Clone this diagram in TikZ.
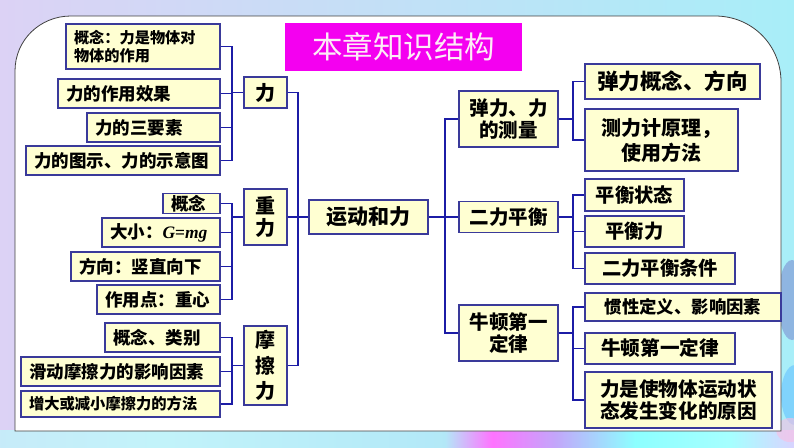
\documentclass[tikz,border=0pt]{standalone}
\usepackage{fontspec}
\setmainfont{Noto Sans CJK SC}
\newfontfamily\timesf{Liberation Serif}
\usetikzlibrary{calc}
\definecolor{boxfill}{HTML}{FFFFD2}
\definecolor{boxline}{HTML}{3A3A9A}
\definecolor{linkc}{HTML}{1C1CA6}
\definecolor{titlebg}{HTML}{F400F0}
\definecolor{lav}{HTML}{DCD2F5}
\definecolor{cyanbg}{HTML}{A8EEF8}
\pgfdeclarehorizontalshading{bottomband}{100bp}{color(0bp)=(lav!80!cyanbg); color(35bp)=(cyanbg!70!white); color(53bp)=(cyanbg!80!lav); color(56bp)=(magenta!55!white); color(60bp)=(magenta!30!cyanbg); color(65bp)=(cyan!45!white); color(71bp)=(cyan!35!white); color(78bp)=(magenta!30!white); color(88bp)=(lav); color(93bp)=(cyan!50!white); color(100bp)=(cyan!60!white)}
\tikzset{
  box/.style={draw=boxline, fill=boxfill, line width=1.4pt, inner sep=0pt, align=center, font=\bfseries\fontsize{17.5}{22}\selectfont},
  lbox/.style={box, inner xsep=8pt, text width=#1, align=left},
  lk/.style={draw=linkc, line width=1.5pt, line join=miter},
  fs/.style={font=\bfseries\fontsize{#1}{22}\selectfont},
  fsl/.style 2 args={font=\bfseries\fontsize{#1}{#2}\selectfont}
}
\begin{document}
\begin{tikzpicture}[x=1pt,y=-1pt]
\useasboundingbox (0,0) rectangle (794,447);
% background
\shade[left color=lav, right color=cyanbg] (0,0) rectangle (794,447);
\shade[shading=bottomband] (0,430) rectangle (794,447);
\fill[cyan!40!blue!50!white, opacity=0.7] (792,300) ellipse (14 and 40);
\fill[blue!40!cyan!60!white, opacity=0.6] (795,395) ellipse (14 and 30);
\fill[magenta!25!white, opacity=0.6] (790,430) ellipse (14 and 12);
% panel
\draw[black!75, line width=0.8pt, fill=white] (15,431) -- (15,71) .. controls (15,40) and (40,16) .. (71,16) -- (715,16) .. controls (752,16) and (781,45) .. (781,82) -- (781,431) -- cycle;
% title
\node[fill=titlebg, minimum width=237, minimum height=48, inner sep=0pt, text=white!92!magenta, font=\fontsize{30.5}{32}\selectfont] (tt) at (403.5,47) {本章知识结构};
% left column: 力
\node[lbox=138, minimum height=45, fsl={15.2}{18}] (c1) at (143,46.5) {概念：力是物体对\\物体的作用};
\node[lbox=146, minimum height=29] (c2) at (139,93.5) {力的作用效果};
\node[lbox=117, minimum height=29] (c3) at (153.5,127.5) {力的三要素};
\node[lbox=178, minimum height=29] (c4) at (123,160.5) {力的图示、力的示意图};
\node[box, minimum width=43, minimum height=31, fs=20] (li) at (265.5,92.5) {力};
% 重力
\node[lbox=41, minimum height=20] (g1) at (191.5,203.5) {概念};
\node[lbox=102, minimum height=29] (g2) at (161,232.5) {大小：{\timesf\itshape G\upshape=\itshape mg}};
\node[lbox=133, minimum height=29] (g3) at (145.5,266.5) {方向：竖直向下};
\node[lbox=107, minimum height=29] (g4) at (158.5,299.5) {作用点：重心};
\node[box, minimum width=43, minimum height=56, fsl={20}{22}] (zl) at (265.5,217) {重\\力};
% 摩擦力
\node[lbox=99, minimum height=29] (f1) at (162.5,337.5) {概念、类别};
\node[lbox=183, minimum height=29] (f2) at (120.5,371.5) {滑动摩擦力的影响因素};
\node[lbox=183, minimum height=26, fs=15.3] (f3) at (120.5,404) {增大或减小摩擦力的方法};
\node[box, minimum width=43, minimum height=79, fsl={20}{25.5}] (ml) at (265.5,365.5) {摩\\擦\\力};
% center
\node[box, minimum width=119, minimum height=34, fs=21] (yd) at (368.5,217) {运动和力};
% right middle column
\node[box, minimum width=99, minimum height=56, fsl={19.5}{22}] (r1) at (508.5,119) {弹力、力\\的测量};
\node[box, minimum width=99, minimum height=31, fs=19.5] (r2) at (508.5,217) {二力平衡};
\node[box, minimum width=99, minimum height=56, fsl={19.5}{22}] (r3) at (508.5,333) {牛顿第一\\定律};
% right column
\node[box, minimum width=175, minimum height=35, fs=21.5] (a1) at (672.5,81.5) {弹力概念、方向};
\node[box, minimum width=153, minimum height=62, fsl={20}{25}] (a2) at (661.5,140) {测力计原理，\\使用方法};
\node[box, minimum width=99, minimum height=32, fs=19.3] (b1) at (634.5,195) {平衡状态};
\node[box, minimum width=99, minimum height=31, fs=19.3] (b2) at (634.5,231.5) {平衡力};
\node[box, minimum width=150, minimum height=31, fs=19.3] (b3) at (660,268.5) {二力平衡条件};
\node[box, minimum width=196, minimum height=28, fs=17.4] (n1) at (683,307) {惯性定义、影响因素};
\node[box, minimum width=150, minimum height=31, fs=19.6] (n2) at (660,348.5) {牛顿第一定律};
\node[box, minimum width=187, minimum height=56, fsl={19.6}{22}] (n3) at (678.5,400) {力是使物体运动状\\态发生变化的原因};
% bracket coordinates
\coordinate (lb) at (232,0);
\coordinate (mb) at (298,0);
\coordinate (rb) at (445,0);
\coordinate (sb) at (573,0);
% left brackets
\draw[lk] (c1.east) -- (c1.east -| lb) -- (c4.east -| lb) -- (c4.east);
\draw[lk] (c2.east) -- (c2.east -| lb);
\draw[lk] (c3.east) -- (c3.east -| lb);
\draw[lk] (lb |- li.west) -- (li.west);
\draw[lk] (g1.east) -- (g1.east -| lb) -- (g4.east -| lb) -- (g4.east);
\draw[lk] (g2.east) -- (g2.east -| lb);
\draw[lk] (g3.east) -- (g3.east -| lb);
\draw[lk] (lb |- zl.west) -- (zl.west);
\draw[lk] (f1.east) -- (f1.east -| lb) -- (f3.east -| lb) -- (f3.east);
\draw[lk] (f2.east) -- (f2.east -| lb);
\draw[lk] (lb |- ml.west) -- (ml.west);
% main left
\draw[lk] (li.east) -- (li.east -| mb) -- (ml.east -| mb) -- (ml.east);
\draw[lk] (zl.east) -- (yd.west);
% main right
\draw[lk] (r1.west) -- (r1.west -| rb) -- (r3.west -| rb) -- (r3.west);
\draw[lk] (yd.east) -- (r2.west);
% right brackets
\draw[lk] (a1.west) -- (a1.west -| sb) -- (a2.west -| sb) -- (a2.west);
\draw[lk] (r1.east) -- (r1.east -| sb);
\draw[lk] (b1.west) -- (b1.west -| sb) -- (b3.west -| sb) -- (b3.west);
\draw[lk] (b2.west) -- (b2.west -| sb);
\draw[lk] (r2.east) -- (r2.east -| sb);
\draw[lk] (n1.west) -- (n1.west -| sb) -- (n3.west -| sb) -- (n3.west);
\draw[lk] (n2.west) -- (n2.west -| sb);
\draw[lk] (r3.east) -- (r3.east -| sb);
\end{tikzpicture}
\end{document}
